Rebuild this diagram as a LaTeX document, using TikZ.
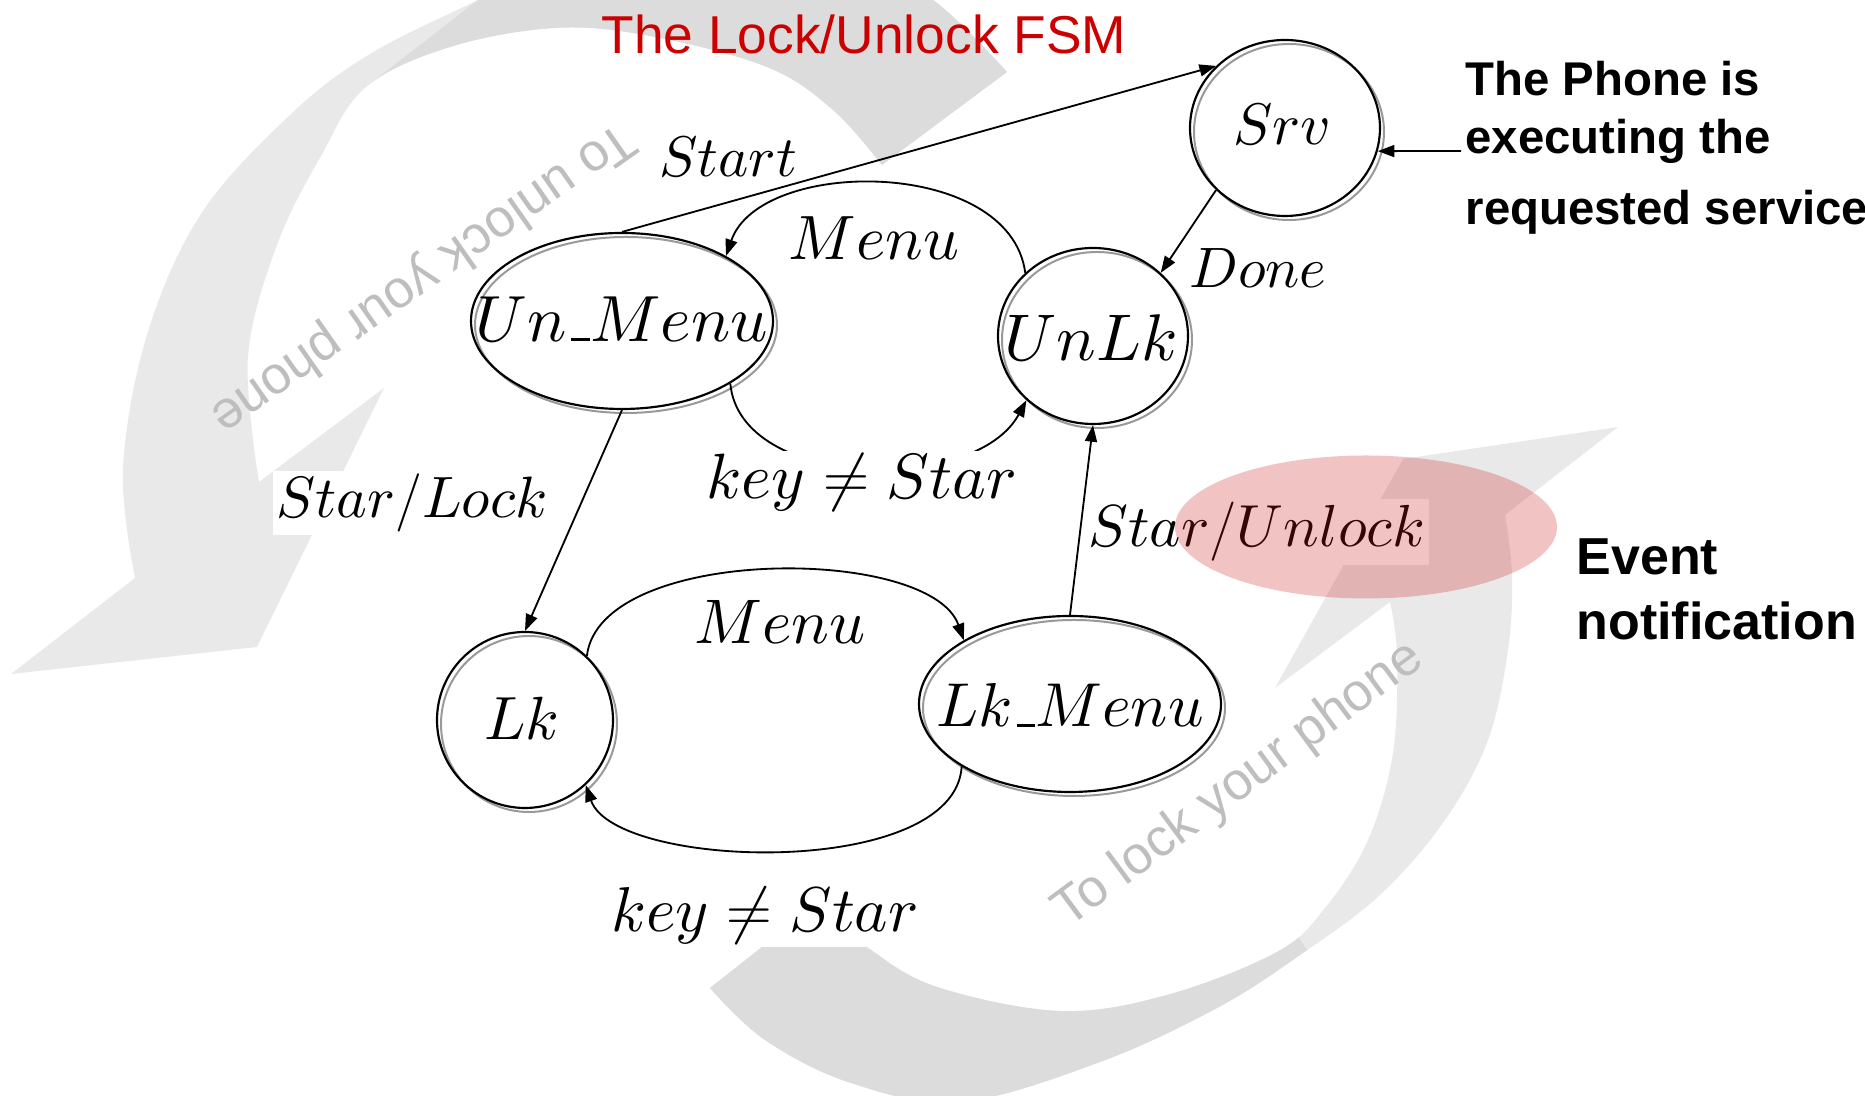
\RequirePackage{fix-cm}
\documentclass[tikz,border=0pt]{standalone}
\usepackage{fontspec}
\newfontfamily\arialfont{Liberation Sans}
\usetikzlibrary{shapes.geometric,arrows.meta}
% math italic from the 10pt design at every size
\DeclareFontShape{OML}{cmm}{m}{it}{<->cmmi10}{}

\definecolor{fsmred}{RGB}{204,0,0}
\definecolor{ribbonlight}{RGB}{233,233,233}
\definecolor{ribbondark}{RGB}{220,220,220}
\definecolor{blobred}{RGB}{205,25,25}
\definecolor{hintgray}{RGB}{190,190,190}

% short low bar used inside state names
\newcommand{\ulbar}{\mbox{\kern.06em\rule{.3em}{.045em}}}

% outline of the curved arrow around the upper left
\newcommand{\unlockRibbon}{(135,578) -- (11,674) -- (257,647) -- (384,388) -- (259,482)
  -- plot[smooth, tension=0.6] coordinates {(259,482) (248,357) (277,245) (321,156) (366,87) (450,47) (555,28) (650,36) (767,67) (833,110) (882,165)}
  -- (1007,72)
  -- plot[smooth, tension=0.6] coordinates {(1007,72) (933,0) (850,-40) (700,-60) (560,-40) (478,0) (370,54) (290,115) (201,214) (147,335) (123,469) (135,578)}
  -- cycle}
% outline of the curved arrow around the lower right
\newcommand{\lockRibbon}{(1505,515) -- (1618,427) -- (1403,459) -- (1275,688) -- (1390,602)
  -- plot[smooth, tension=0.6] coordinates {(1390,602) (1397,655) (1393,753) (1368,840) (1325,908) (1277,952) (1167,995) (1060,1011) (937,987) (871,950) (845,925)}
  -- (790,925) -- (710,988)
  -- plot[smooth, tension=0.6] coordinates {(710,988) (765,1040) (851,1083) (960,1102) (1100,1062) (1217,1008) (1300,955) (1380,895) (1445,820) (1488,740) (1508,650) (1512,575) (1505,515)}
  -- cycle}

\tikzset{
  fsmstate/.style={ellipse, draw=black, line width=0.65pt, inner sep=0pt, minimum height=52.8pt,
    preaction={draw=black!40, line width=0.6pt, transform canvas={shift={(1.2pt,-1.2pt)}}}},
  statename/.style={inner sep=0pt, font=\fontsize{#1}{#1}\selectfont},
  elabel/.style={inner sep=0pt, font=\fontsize{#1}{#1}\selectfont},
  elabelw/.style={fill=white, inner sep=1pt, font=\fontsize{#1}{#1}\selectfont},
  edge/.style={line width=0.55pt, -{Triangle[length=5pt,width=3.6pt]}},
  hint/.style={inner sep=0pt, text=hintgray, font=\arialfont\fontsize{15.9}{18}\selectfont},
  svctext/.style={inner sep=0pt, anchor=base west, font=\arialfont\bfseries\fontsize{14.2}{17}\selectfont},
  evtext/.style={inner sep=0pt, anchor=base west, font=\arialfont\bfseries\fontsize{15.6}{18}\selectfont},
  blob/.style={ellipse, fill=blobred, fill opacity=0.26, inner sep=0pt, minimum width=114.6pt, minimum height=42.9pt},
}

\begin{document}
\begin{tikzpicture}[x=0.3pt, y=-0.3pt]
\useasboundingbox (0,0) rectangle (1865,1096);
\clip (0,0) rectangle (1865,1096);

% background curved arrows: light front face, darker tail part
\fill[ribbonlight] \unlockRibbon;
\begin{scope}
  \clip (366,87) -- (478,0) -- (560,-120) -- (1100,-120) -- (1100,300) -- (380,300) -- cycle;
  \fill[ribbondark] \unlockRibbon;
\end{scope}
\fill[ribbonlight] \lockRibbon;
\begin{scope}
  \clip (1160,740) -- (1440,1140) -- (500,1140) -- (500,740) -- cycle;
  \fill[ribbondark] \lockRibbon;
\end{scope}

\node[hint, rotate=215] (unlockhint) at (422,277) {To unlock your phone};
\node[hint, rotate=36.5] (lockhint) at (1239,785) {To lock your phone};

% states
\node[fsmstate, minimum width=57pt] (srv) at (1285,128) {};
\node[fsmstate, minimum width=57pt] (unlk) at (1093,336) {};
\node[fsmstate, minimum width=90.6pt] (unmenu) at (622,321) {};
\node[fsmstate, minimum width=52.8pt] (lk) at (525,720) {};
\node[fsmstate, minimum width=90.6pt] (lkmenu) at (1070,704) {};

\node[statename=17.6] (srvname) at (1282,124) {$Srv$};
\node[statename=19.8] (unlkname) at (1091,338) {$UnLk$};
\node[statename=19.6] (unmenuname) at (622,319) {$Un\ulbar Menu$};
\node[statename=18.3] (lkname) at (522,718) {$Lk$};
\node[statename=18.6] (lkmenuname) at (1070,705) {$Lk\ulbar Menu$};

% transitions
\draw[edge] (unmenu.north) -- (srv.138);
\draw[edge] (unlk.137) .. controls (1010,157) and (760,157) .. (unmenu.32);
\draw[edge] (unmenu.-30) .. controls (740,490) and (975,495) .. (unlk.224);
\draw[edge] (unmenu.south) -- (lk.north);
\draw[edge] (srv.222) -- (unlk.43);
\draw[edge] (lkmenu.north) -- (unlk.south);
\draw[edge] (lk.46) .. controls (600,545) and (930,545) .. (lkmenu.149);
\draw[edge] (lkmenu.210) .. controls (955,880) and (615,870) .. (lk.-47);

% transition labels
\node[elabel=17.2] (lstart) at (728,157) {$Start$};
\node[elabel=18.8] (lmenutop) at (874,238) {$Menu$};
\node[elabel=17.1] (ldone) at (1258,268) {$Done$};
\node[elabelw=19.2] (lkeymid) at (862,483) {$key \neq Star$};
\node[elabelw=17.5] (lstarlock) at (412,503) {$Star/Lock$};
\node[elabelw=17.8] (lstarunlock) at (1257,532) {$Star/Unlock$};
\node[elabel=18.9] (lmenubot) at (780,622) {$Menu$};
\node[elabelw=19.0] (lkeybot) at (765,916) {$key \neq Star$};

% highlighted event
\node[blob] (eventblob) at (1366,527) {};

% annotations
\node[svctext] (svc1) at (1465,96) {The Phone is};
\node[svctext] (svc2) at (1465,154) {executing the};
\node[svctext] (svc3) at (1465,225) {requested service};
\coordinate (svctail) at (1461,151);
\draw[edge] (svctail) -- (srv.-14);

\node[evtext] (ev1) at (1576,575) {Event};
\node[evtext] (ev2) at (1576,640) {notification};

\node[inner sep=0pt, anchor=base west, text=fsmred, font=\arialfont\fontsize{16}{19}\selectfont] (title) at (601,54) {The Lock/Unlock FSM};
\end{tikzpicture}
\end{document}
